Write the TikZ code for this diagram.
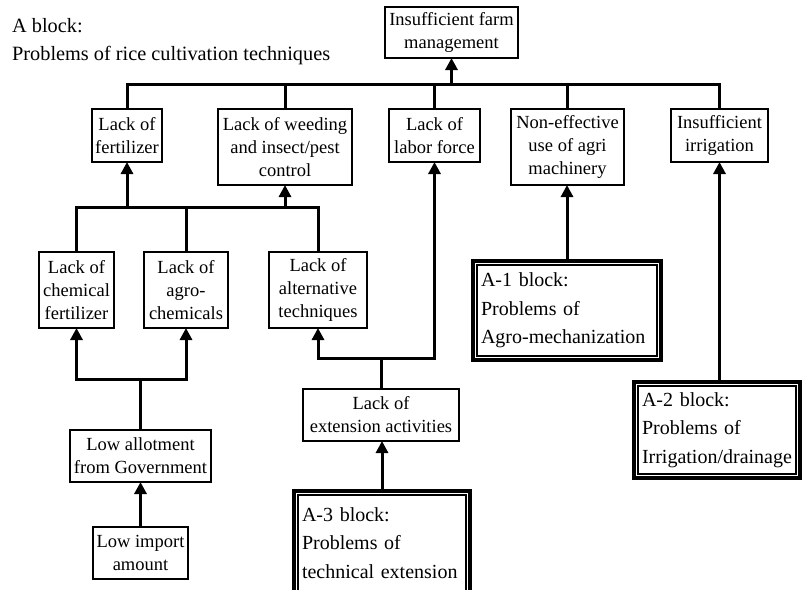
\documentclass[tikz,border=0pt]{standalone}
\usepackage{fontspec}
\setmainfont{Liberation Serif}
\usetikzlibrary{arrows.meta,fit}
\begin{document}
\begin{tikzpicture}[x=1pt,y=-1pt,
  box/.style={draw, line width=1.3pt, inner sep=0pt, outer sep=0pt, align=center,
    font=\fontsize{18.5}{23}\selectfont},
  blockbox/.style={draw, line width=1.4pt, inner xsep=4pt, inner ysep=0pt, outer sep=0pt,
    align=left, font=\fontsize{20}{28.5}\selectfont},
  outerframe/.style={draw, line width=4pt, inner sep=4pt, outer sep=0pt},
  link/.style={line width=3pt, line join=miter},
  uplink/.style={link, -{Triangle[width=12pt,length=12pt]}},
]
\useasboundingbox (0,0) rectangle (802,589);
\clip (0,0) rectangle (802,589);

% heading
\node[anchor=north west, align=left, inner sep=0pt, font=\fontsize{20.3}{28}\selectfont]
  (title) at (12,18) {A block:\\Problems of rice cultivation techniques};

% top level
\node[box, minimum width=133pt, minimum height=51pt] (top) at (451.5,32.5) {Insufficient farm\\management};

% second level
\node[box, minimum width=70pt,  minimum height=53pt] (fert)   at (127,135.5)  {Lack of\\fertilizer};
\node[box, minimum width=134pt, minimum height=76pt] (weed)   at (285,147)    {Lack of weeding\\and insect/pest\\control};
\node[box, minimum width=91pt,  minimum height=53pt] (labor)  at (434.5,135.5){Lack of\\labor force};
\node[box, minimum width=113pt, minimum height=76pt] (noneff) at (567.5,147)  {Non-effective\\use of agri\\machinery};
\node[box, minimum width=97pt,  minimum height=53pt] (irrig)  at (719.5,135.5){Insufficient\\irrigation};

% third level
\node[box, minimum width=75pt, minimum height=76pt] (chemf) at (76.5,290) {Lack of\\chemical\\fertilizer};
\node[box, minimum width=84pt, minimum height=76pt] (agro)  at (186,290)  {Lack of\\agro-\\chemicals};
\node[box, minimum width=98pt, minimum height=76pt] (alt)   at (318,290)  {Lack of\\alternative\\techniques};

% lower boxes
\node[box, minimum width=141pt, minimum height=52pt] (allot)  at (140.5,456) {Low allotment\\from Government};
\node[box, minimum width=95pt,  minimum height=52pt] (import) at (140.5,553) {Low import\\amount};
\node[box, minimum width=156pt, minimum height=52pt] (ext)    at (381,415)   {Lack of\\extension activities};

% sub-blocks with double frames
\node[blockbox, text width=172pt, minimum height=91pt] (a1) at (567,310.5)
  {A-1 block:\\Problems of\\\mbox{Agro-mechanization}};
\node[outerframe, fit=(a1)] (a1f) {};
\node[blockbox, text width=150pt, minimum height=88pt] (a2) at (717,430)
  {A-2 block:\\Problems of\\\mbox{Irrigation/drainage}};
\node[outerframe, fit=(a2)] (a2f) {};
\node[blockbox, text width=160pt, minimum height=96pt] (a3) at (382,543)
  {A-3 block:\\Problems of\\\mbox{technical extension}};
\node[outerframe, fit=(a3)] (a3f) {};

% junction points on the bus lines
\coordinate (r1) at (452,84);
\coordinate (r2) at (200,207);
\coordinate (r3) at (141,379);
\coordinate (r4) at (382,358);

% second level into top
\draw[link] (fert.north) |- (r1) -| (irrig.north);
\draw[link] (weed.north) -- (weed.north |- r1);
\draw[link] (labor.north) -- (labor.north |- r1);
\draw[link] (noneff.north) -- (noneff.north |- r1);
\draw[uplink] (top.south |- r1) -- (top.south);

% third level into fertilizer / weeding
\draw[link] (chemf.north) |- (r2) -| (alt.north);
\draw[link] (agro.north) -- (agro.north |- r2);
\draw[uplink] (fert.south |- r2) -- (fert.south);
\draw[uplink] (weed.south |- r2) -- (weed.south);

% allotment branch
\draw[link] (allot.north) -- (allot.north |- r3);
\draw[uplink] (allot.north |- r3) -| (chemf.south);
\draw[uplink] (allot.north |- r3) -| (agro.south);
\draw[uplink] (import.north) -- (allot.south);

% extension branch
\draw[link] (ext.north) -- (ext.north |- r4);
\draw[uplink] (ext.north |- r4) -| (alt.south);
\draw[uplink] (ext.north |- r4) -| (labor.south);
\draw[uplink] (a3f.north) -- (a3f.north |- ext.south);

% sub-blocks
\draw[uplink] (a1f.north) -- (a1f.north |- noneff.south);
\draw[uplink] (irrig.south |- a2f.north) -- (irrig.south);
\end{tikzpicture}
\end{document}
